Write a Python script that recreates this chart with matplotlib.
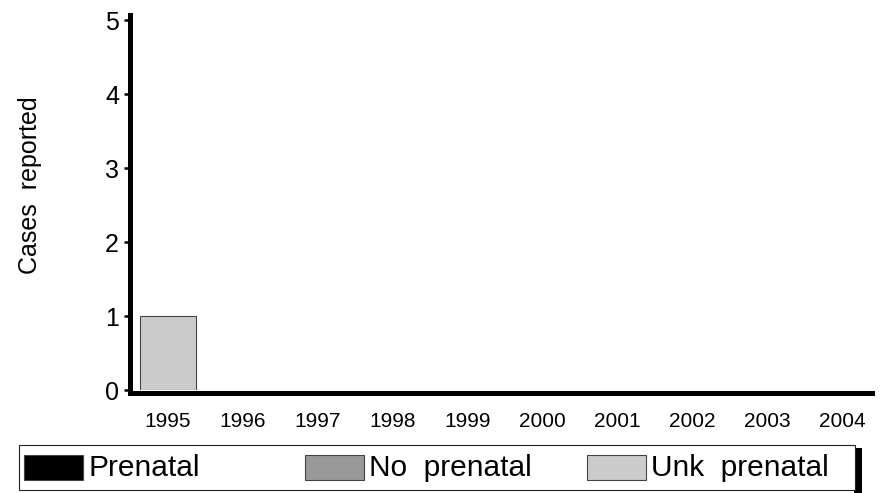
import matplotlib
matplotlib.use('Agg')
import numpy as np
from matplotlib import pyplot as plt
from matplotlib.patches import Rectangle

plt.rcParams['font.family'] = ['Liberation Sans', 'DejaVu Sans']

years = ['1995', '1996', '1997', '1998', '1999', '2000', '2001', '2002', '2003', '2004']
prenatal = [0, 0, 0, 0, 0, 0, 0, 0, 0, 0]
no_prenatal = [0, 0, 0, 0, 0, 0, 0, 0, 0, 0]
unk_prenatal = [1, 0, 0, 0, 0, 0, 0, 0, 0, 0]

series = ['Prenatal', 'No  prenatal', 'Unk  prenatal']
colors = ['#000000', '#999999', '#cccccc']

W, H = 880, 493
fig = plt.figure(figsize=(W / 100, H / 100), dpi=100)
ax = fig.add_axes([130 / W, 1 - 390 / H, (872 - 130) / W, (390 - 15) / H])


def px(x, y, w, h):
    # pixel box (from top-left) -> figure fraction
    return (x / W, 1 - (y + h) / H), w / W, h / H


x = np.arange(len(years))
bottom = np.zeros(len(years))
for vals, c in zip([prenatal, no_prenatal, unk_prenatal], colors):
    v = np.array(vals, dtype=float)
    ax.bar(x[v > 0], v[v > 0], 0.75, bottom=bottom[v > 0], color=c,
           edgecolor='#444444', linewidth=0.8, zorder=2)
    bottom += v

ax.set_xlim(-0.507, 9.4)
ax.set_ylim(0, 5.07)
ax.set_yticks(range(6))
ax.set_xticks(x, years)
ax.tick_params(axis='y', labelsize=18, length=4, width=1.8, pad=4)
ax.tick_params(axis='x', labelsize=15, length=0, pad=14)

for s in ['top', 'right']:
    ax.spines[s].set_visible(False)
ax.spines['left'].set_linewidth(3.6)
ax.spines['bottom'].set_linewidth(3.6)
ax.spines['bottom'].set_position(('outward', 1.8))

fig.text(30 / W, 1 - 185 / H, 'Cases  reported', rotation=90, fontsize=18,
         ha='center', va='center')

# legend box with shadow on the right
xy, w, h = px(854, 448, 8, 50)
fig.patches.append(Rectangle(xy, w, h, transform=fig.transFigure,
                             facecolor='black', edgecolor='none', zorder=1))
xy, w, h = px(19, 445, 836, 45)
fig.patches.append(Rectangle(xy, w, h, transform=fig.transFigure,
                             facecolor='white', edgecolor='#222222',
                             linewidth=0.8, zorder=2))
for lx, name, c in zip([24, 305, 587], series, colors):
    xy, w, h = px(lx, 455, 59, 25)
    fig.patches.append(Rectangle(xy, w, h, transform=fig.transFigure,
                                 facecolor=c, edgecolor='#444444',
                                 linewidth=0.8, zorder=3))
    fig.text((lx + 64) / W, 1 - 468 / H, name, fontsize=21.5,
             ha='left', va='center', zorder=4)

fig.savefig('out.png', dpi=100)
